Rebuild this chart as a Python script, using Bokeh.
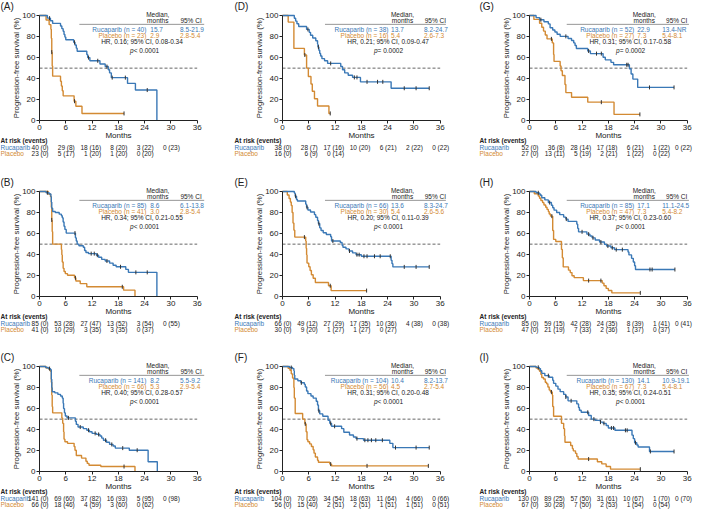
import numpy as np
from bokeh.plotting import figure
from bokeh.layouts import column, row
from bokeh.models import Range1d
from bokeh.core.properties import value
from bokeh.embed import file_html
from bokeh.resources import INLINE

# ---------------- data ----------------
MONTH_TICKS = [0, 6, 12, 18, 24, 30, 36]
SURV_TICKS = [0, 20, 40, 60, 80, 100]
RISK_TIMES = [0, 6, 12, 18, 24, 30, 36]
ARMS = ["Rucaparib", "Placebo"]

# Panel A
A_RUC_T = [1.8, 2.5, 3.0, 4.8, 5.1, 5.4, 5.6, 5.8, 6.0, 7.8, 8.1, 8.4, 8.6, 10.8, 11.0, 11.5, 13.8, 15.0, 15.7, 16.0, 16.4, 20.1, 21.9, 26.8]
A_RUC_S = [97.5, 95, 92.5, 90, 87.5, 85, 82, 79.5, 77, 74.5, 72, 69, 66, 63, 60, 57, 54, 51.5, 48.5, 45.5, 41, 35.5, 29.2, 0]
A_RUC_C = [2.3, 8.0, 11.2, 13.3, 15.4, 16.6, 19.6, 24.6]
A_PLC_T = [1.5, 2.2, 2.6, 2.7, 2.8, 2.9, 3.0, 4.8, 5.0, 5.2, 5.4, 7.9, 8.3, 9.7]
A_PLC_S = [95.7, 91.3, 87, 78.3, 65.2, 52, 42.4, 37.5, 33, 28.5, 23.7, 18.6, 13.8, 7.0]
A_PLC_C = [2.8, 8.0, 19.3]
A_N = [40, 23]
A_MEDIAN = ["15.7", "2.9"]
A_CI = ["8.5-21.9", "2.8-5.4"]
A_HR = ["0.16", "0.08-0.34"]
A_P = "< 0.0001"
A_RUC_RISK = [40, 29, 18, 8, 3, 0]
A_RUC_EV = [0, 8, 16, 20, 22, 23]
A_PLC_RISK = [23, 5, 1, 1, 0]
A_PLC_EV = [0, 17, 20, 20, 20]

# Panel B
B_RUC_T = [1.5, 2.2, 2.6, 2.7, 2.8, 3.0, 3.6, 4.5, 5.0, 5.2, 5.4, 5.6, 5.8, 6.1, 8.2, 8.4, 8.6, 9.0, 10.0, 10.3, 10.6, 11.2, 13.0, 13.5, 14.2, 15.0, 16.0, 16.8, 17.5, 19.7, 20.3, 26.8]
B_RUC_S = [98.8, 97.6, 95, 90, 84, 81, 80, 78.5, 77, 75, 71, 67, 64, 60.5, 56, 53, 50, 48.5, 47, 44, 42, 41, 39.5, 37.5, 35.5, 34, 32, 30, 28.5, 26, 23.2, 0]
B_RUC_C = [1.8, 8.1, 11.8, 12.5, 13.2, 15.4, 18.5, 22.0, 24.6]
B_PLC_T = [2.0, 2.5, 2.7, 2.8, 2.9, 3.0, 5.0, 5.1, 5.2, 5.4, 5.6, 5.9, 6.4, 8.0, 8.3, 9.3, 10.8, 19.2, 21.8]
B_PLC_S = [97.6, 95.1, 85, 73, 62, 50, 45, 40, 33, 27, 24, 22, 20.5, 18, 15, 12.5, 9.5, 6.3, 0]
B_PLC_C = [2.8, 8.2, 18.9]
B_N = [85, 41]
B_MEDIAN = ["8.6", "3.0"]
B_CI = ["6.1-13.8", "2.8-5.4"]
B_HR = ["0.34", "0.21-0.55"]
B_P = "< 0.0001"
B_RUC_RISK = [85, 53, 27, 13, 3, 0]
B_RUC_EV = [0, 28, 47, 52, 54, 55]
B_PLC_RISK = [41, 10, 3, 3, 0]
B_PLC_EV = [0, 29, 35, 35, 37]

# Panel C
C_RUC_T = [1.4, 2.0, 2.5, 2.7, 2.8, 2.9, 3.5, 4.2, 4.8, 5.2, 5.4, 5.5, 5.7, 5.9, 6.3, 8.2, 8.4, 8.8, 10.0, 10.8, 11.4, 12.0, 13.0, 13.8, 14.2, 14.6, 15.3, 16.0, 16.8, 17.3, 20.5, 24.8, 26.9]
C_RUC_S = [99, 98, 97, 88, 80, 76, 75, 73.5, 72, 70, 65, 60, 56, 53, 51.2, 48, 45, 42.5, 41, 39.5, 38, 36.5, 35.5, 34, 32, 30, 28, 26, 24.5, 22.5, 20.5, 9.5, 0]
C_RUC_C = [2.3, 6.6, 9.3, 11.2, 12.7, 13.5, 15.1, 16.5, 19.0, 22.3]
C_PLC_T = [1.5, 2.2, 2.5, 2.7, 2.8, 2.9, 3.0, 5.1, 5.3, 5.5, 5.6, 5.8, 6.4, 7.9, 8.1, 8.4, 9.6, 10.6, 10.9, 11.3, 14.0, 21.8]
C_PLC_S = [98.5, 97, 95.5, 85, 73, 62, 56, 51, 46, 38, 31, 28.5, 27, 24, 20.5, 15.5, 13, 10, 8, 6.2, 5, 0]
C_PLC_C = [19.3]
C_N = [141, 66]
C_MEDIAN = ["8.2", "5.3"]
C_CI = ["5.5-9.2", "2.9-5.4"]
C_HR = ["0.40", "0.28-0.57"]
C_P = "< 0.0001"
C_RUC_RISK = [141, 69, 37, 16, 5, 0]
C_RUC_EV = [0, 60, 82, 93, 95, 98]
C_PLC_RISK = [66, 18, 4, 3, 0]
C_PLC_EV = [0, 46, 59, 60, 62]

# Panel D
D_RUC_T = [2.7, 3.0, 3.3, 3.7, 5.5, 6.1, 6.4, 6.9, 7.6, 8.0, 8.1, 8.3, 8.5, 8.7, 9.0, 9.6, 10.3, 13.3, 13.7, 14.2, 15.0, 16.0, 17.8, 24.8]
D_RUC_S = [97.4, 94.7, 92.1, 89.5, 86.8, 84, 81.3, 78.6, 76, 73, 70, 67, 64, 61.5, 59, 57, 54.5, 51.5, 48.5, 45.5, 43.3, 41.2, 37, 30.9]
D_RUC_C = [5.8, 8.2, 11.0, 16.4, 17.0, 19.3, 21.7, 22.9, 27.8, 30.5, 33.5]
D_PLC_T = [1.3, 2.6, 5.0, 5.5, 5.9, 6.5, 6.8, 7.3, 8.0, 10.6]
D_PLC_S = [93.75, 68.75, 62.5, 50, 42, 35, 28, 21, 14, 7]
D_PLC_C = [5.1, 10.9]
D_N = [38, 16]
D_MEDIAN = ["13.7", "5.4"]
D_CI = ["8.2-24.7", "2.6-7.3"]
D_HR = ["0.21", "0.09-0.47"]
D_P = "= 0.0002"
D_RUC_RISK = [38, 28, 17, 10, 6, 2, 0]
D_RUC_EV = [0, 7, 16, 20, 21, 22, 22]
D_PLC_RISK = [16, 6, 0]
D_PLC_EV = [0, 9, 14]

# Panel E
E_RUC_T = [2.7, 2.9, 3.2, 3.4, 5.3, 5.5, 5.8, 6.4, 7.3, 7.6, 8.0, 8.2, 8.5, 8.8, 9.3, 10.0, 11.0, 11.2, 13.2, 13.6, 13.8, 14.5, 15.2, 16.0, 16.8, 18.0, 24.8, 25.0, 25.2]
E_RUC_S = [98.5, 95.5, 92.4, 91, 88, 85, 82.4, 80.5, 78, 75.5, 72.5, 69.5, 65.5, 63, 60.8, 59.2, 57, 53, 51.5, 49, 47, 45.5, 43.5, 41.7, 40, 38.5, 34.6, 31.5, 28.4]
E_RUC_C = [3.0, 5.6, 8.3, 11.5, 15.3, 17.0, 17.5, 18.6, 19.3, 21.0, 22.3, 24.6, 27.8, 30.5, 33.5]
E_PLC_T = [1.1, 1.5, 1.8, 2.0, 2.2, 2.4, 2.6, 2.8, 5.3, 5.4, 5.5, 5.6, 6.0, 6.3, 6.6, 7.0, 7.5, 10.5, 11.1]
E_PLC_S = [96.7, 93.3, 90, 86.7, 80, 70, 63.3, 56.7, 53, 46, 40, 32, 28.5, 25, 21, 17.6, 13.6, 10.5, 5.9]
E_PLC_C = [5.0, 10.9, 19.2]
E_N = [66, 30]
E_MEDIAN = ["13.6", "5.4"]
E_CI = ["8.3-24.7", "2.6-5.6"]
E_HR = ["0.20", "0.11-0.39"]
E_P = "< 0.0001"
E_RUC_RISK = [66, 49, 27, 17, 10, 4, 0]
E_RUC_EV = [0, 12, 29, 35, 36, 38, 38]
E_PLC_RISK = [30, 9, 1, 1, 0]
E_PLC_EV = [0, 20, 27, 27, 27]

# Panel F
F_RUC_T = [1.6, 2.3, 2.6, 2.7, 2.8, 3.5, 4.2, 5.0, 5.2, 5.5, 5.8, 6.5, 7.0, 7.7, 8.0, 8.2, 8.5, 9.2, 10.4, 10.8, 11.2, 13.5, 14.0, 15.3, 16.2, 16.8, 18.5, 24.5, 25.2]
F_RUC_S = [99, 98, 96, 92, 88.2, 86.5, 84.5, 83, 80.5, 76.7, 74.2, 72, 70, 67, 63.4, 58, 55, 52.8, 49, 46, 43.2, 41, 37.5, 35, 33, 31.5, 30, 27, 23]
F_RUC_C = [2.0, 4.3, 8.3, 11.0, 11.9, 17.0, 18.8, 19.5, 20.3, 21.3, 22.8, 25.8, 30.5, 33.5]
F_PLC_T = [1.3, 1.7, 2.0, 2.3, 2.6, 2.7, 2.9, 4.6, 5.1, 5.4, 5.6, 5.8, 6.2, 6.6, 7.0, 7.2, 7.5, 8.0, 8.2, 10.8, 11.2]
F_PLC_S = [98.2, 96.4, 93, 89, 80, 70, 55.4, 50, 45.5, 38, 30.5, 28.6, 26.5, 24, 21, 17.7, 14, 10.9, 9, 7.3, 5.6]
F_PLC_C = [5.2, 11.0, 19.3, 33.3]
F_N = [104, 56]
F_MEDIAN = ["10.4", "4.5"]
F_CI = ["8.2-13.7", "2.7-5.4"]
F_HR = ["0.31", "0.20-0.48"]
F_P = "< 0.0001"
F_RUC_RISK = [104, 70, 34, 18, 11, 4, 0]
F_RUC_EV = [0, 26, 54, 63, 64, 66, 66]
F_PLC_RISK = [56, 15, 2, 2, 1, 1, 0]
F_PLC_EV = [0, 40, 51, 51, 51, 51, 51]

# Panel G
G_RUC_T = [1.5, 2.3, 3.3, 4.3, 4.7, 5.3, 5.8, 6.3, 7.0, 8.8, 9.6, 10.1, 10.4, 10.7, 13.3, 13.9, 16.8, 17.3, 18.6, 19.2, 22.8, 23.2, 23.6, 24.7]
G_RUC_S = [98, 96, 94, 92, 88.3, 86.3, 84.3, 82.2, 80.2, 78.2, 76.2, 74, 71.5, 68.6, 66.3, 63.8, 60.3, 57.9, 55.5, 53.2, 49.5, 44.5, 39.6, 31.7]
G_RUC_C = [2.6, 8.3, 13.5, 15.3, 16.4, 22.2, 22.5, 27.4, 33.0]
G_PLC_T = [1.0, 2.3, 2.8, 3.2, 3.6, 4.0, 5.2, 5.5, 5.6, 7.0, 7.2, 7.5, 8.1, 8.3, 9.6, 13.3, 19.3]
G_PLC_S = [96.3, 92.6, 88.9, 85.2, 81.5, 77.8, 74, 63, 56.4, 52, 47.5, 43, 34.5, 26.8, 22.3, 17.7, 6.1]
G_PLC_C = [5.0, 16.4, 25.2]
G_N = [52, 27]
G_MEDIAN = ["22.9", "7.3"]
G_CI = ["13.4-NR", "5.4-8.1"]
G_HR = ["0.31", "0.17-0.58"]
G_P = "= 0.0002"
G_RUC_RISK = [52, 36, 28, 17, 6, 1, 0]
G_RUC_EV = [0, 8, 14, 18, 21, 22, 22]
G_PLC_RISK = [27, 13, 5, 2, 1, 0]
G_PLC_EV = [0, 11, 19, 21, 22, 22]

# Panel H
H_RUC_T = [1.5, 2.2, 2.5, 2.8, 3.5, 4.3, 5.0, 5.3, 5.6, 6.2, 6.9, 7.8, 8.3, 8.8, 10.8, 11.0, 11.2, 13.1, 13.8, 14.3, 15.0, 16.0, 17.1, 17.6, 18.6, 19.4, 22.5, 22.7, 23.3, 23.7, 24.0, 24.2]
H_RUC_S = [98.8, 97.6, 96.4, 94, 92, 89.5, 87, 84.5, 82.3, 80, 78, 75.7, 73.8, 71.6, 69, 65, 61.7, 59.5, 57.8, 56, 54, 52, 49.8, 48.2, 46.6, 44.8, 42.5, 39.8, 36.5, 33, 29.5, 25.9]
H_RUC_C = [2.0, 4.6, 8.4, 12.0, 13.5, 14.5, 16.3, 17.9, 18.9, 19.8, 21.2, 27.5, 28.0, 33.2]
H_PLC_T = [1.1, 2.0, 2.3, 2.6, 3.0, 3.3, 3.7, 4.0, 4.3, 4.5, 4.8, 5.3, 5.5, 6.0, 7.3, 7.5, 7.7, 8.9, 9.3, 9.7, 10.2, 12.3, 16.6, 17.0, 17.5, 18.0, 18.8]
H_PLC_S = [97.9, 95.7, 93.6, 91.5, 89.4, 87.2, 85, 83, 80.9, 78.7, 76.6, 63, 54.5, 52.5, 45, 37, 28.4, 25.3, 23, 20, 18.2, 15.4, 13, 10.5, 8, 6, 3.7]
H_PLC_C = [5.1, 13.5, 16.3, 25.3]
H_N = [85, 47]
H_MEDIAN = ["17.1", "7.3"]
H_CI = ["11.1-24.5", "5.4-8.2"]
H_HR = ["0.37", "0.23-0.60"]
H_P = "< 0.0001"
H_RUC_RISK = [85, 59, 42, 24, 8, 1, 0]
H_RUC_EV = [0, 15, 28, 35, 39, 41, 41]
H_PLC_RISK = [47, 21, 7, 2, 1, 0]
H_PLC_EV = [0, 19, 33, 36, 37, 37]

# Panel I
I_RUC_T = [1.5, 2.2, 2.5, 2.8, 3.5, 4.5, 5.3, 5.5, 6.0, 6.5, 7.0, 7.8, 8.3, 8.8, 10.8, 11.2, 11.4, 11.8, 13.5, 14.1, 15.0, 16.2, 16.8, 17.5, 18.0, 19.5, 23.4, 23.7, 24.0, 24.5, 24.8, 27.4]
I_RUC_S = [99.2, 98, 96, 93.5, 91.3, 89.8, 87, 84, 81.4, 78.5, 76.1, 73.5, 71, 67.4, 64.5, 61, 58.5, 56.5, 53.5, 50, 48.8, 47.2, 46, 44, 41.6, 39.4, 34.8, 31.5, 27.6, 25.5, 23.6, 19.3]
I_RUC_C = [2.0, 4.3, 8.3, 9.5, 13.3, 14.7, 16.2, 17.0, 18.7, 19.2, 21.9, 22.3, 24.2, 27.6, 33.0]
I_PLC_T = [1.5, 2.0, 2.3, 2.6, 2.8, 3.2, 3.6, 3.9, 4.2, 4.5, 4.8, 5.2, 5.3, 5.5, 7.3, 7.8, 8.0, 8.1, 9.4, 9.8, 10.0, 10.5, 10.8, 11.1, 15.5, 16.5, 17.5, 18.5]
I_PLC_S = [98.5, 97, 95.5, 92.5, 89.6, 88.1, 85, 83.5, 80.5, 77.6, 75.8, 73, 62, 52.8, 46, 41, 34.2, 28, 25, 22, 19.9, 17.5, 14.5, 12.1, 9.5, 7.5, 5.0, 2.5]
I_PLC_C = [5.0, 13.5, 25.3]
I_N = [130, 67]
I_MEDIAN = ["14.1", "7.3"]
I_CI = ["10.9-19.1", "5.4-8.1"]
I_HR = ["0.35", "0.24-0.51"]
I_P = "< 0.0001"
I_RUC_RISK = [130, 89, 57, 31, 10, 1, 0]
I_RUC_EV = [0, 25, 50, 61, 67, 70, 70]
I_PLC_RISK = [67, 30, 7, 2, 1, 0]
I_PLC_EV = [0, 28, 50, 53, 54, 54]

MEDIAN_LEVEL = 50

# ---------------- styles / layout ----------------
FONT = "Liberation Sans"
BLUE = "#3a78b6"
ORANGE = "#d38a33"
DARK = "#222222"
CENSOR = "#333333"

COL_W = [230, 232, 231]
COL_FRAME_LEFT = [39, 52, 67]     # px of month 0 inside each panel
COL_LABEL_LEFT = [0, 4, 17]       # px of the left labels inside each panel
ROW_H = [176, 175, 161]
FB = 120.3                        # px of 0 % from panel top
P100 = 15.0                       # px of 100 % from panel top
PXM = 4.38                        # px per month
PPP = (FB - P100) / 100.0         # px per percent

# median box layout per column (months / percent)
BOX = [
    dict(lbl=24.4, med=25.3, ci=32.1, hmed=27.0, hci=34.6, hr=23.4, pv=24.2, r0=9.1, r1=37.6),
    dict(lbl=24.2, med=24.8, ci=32.3, hmed=27.4, hci=34.9, hr=24.1, pv=24.4, r0=9.7, r1=37.3),
    dict(lbl=23.9, med=24.6, ci=30.3, hmed=26.2, hci=33.6, hr=23.0, pv=23.3, r0=8.5, r1=36.4),
]
HDR_Y1, HDR_Y2 = 100.6, 95.6
RULE_Y = 91.6
ROW_Y = [86.4, 81.4]
HR_Y, P_Y = 75.0, 67.0
FS_BOX = "6.5px"
FS_TBL = "6.5px"

TITLE_PX = 5.5
TBL_PX = [139.7, 146.6, 152.9]
NUM_SHIFT_PX = 9.0                # at-risk numbers end this far right of their tick


def G(name):
    return globals()[name]


def surv_at(t, s, c):
    v = 100.0
    for ti, si in zip(t, s):
        if ti <= c:
            v = si
    return v


def px_to_y(px):
    return (FB - px) / PPP


def make_panel(letter, r, c):
    cw = COL_W[c]
    fl = COL_FRAME_LEFT[c]
    h = ROW_H[r]
    tf = value(FONT)
    p = figure(width=cw, height=h,
               x_range=Range1d(-fl / PXM, (cw - fl) / PXM),
               y_range=Range1d(px_to_y(h), px_to_y(0)),
               output_backend="svg", toolbar_location=None, min_border=0)
    p.outline_line_color = None
    p.grid.grid_line_color = None
    p.background_fill_color = "white"

    for ax in (p.xaxis[0], p.yaxis[0]):
        ax.fixed_location = 0
        ax.axis_line_color = DARK
        ax.major_tick_line_color = DARK
        ax.minor_tick_line_color = None
        ax.major_tick_in = 0
        ax.major_tick_out = 3
        ax.major_label_text_font = FONT
        ax.major_label_text_font_size = "8px"
        ax.major_label_text_color = DARK
        ax.major_label_standoff = 1
        ax.axis_label_text_font = FONT
        ax.axis_label_text_font_style = "normal"
        ax.axis_label_text_color = DARK
    p.xaxis.ticker = MONTH_TICKS
    p.xaxis.bounds = (MONTH_TICKS[0], MONTH_TICKS[-1])
    p.xaxis.axis_label = "Months"
    p.xaxis.axis_label_text_font_size = "8px"
    p.xaxis.axis_label_standoff = -2
    p.yaxis.ticker = SURV_TICKS
    p.yaxis.bounds = (SURV_TICKS[0], SURV_TICKS[-1])
    p.yaxis.axis_label = "Progression-free survival (%)"
    p.yaxis.axis_label_text_font_size = "7.8px"
    p.yaxis.axis_label_standoff = -2

    # panel letter
    lx = (COL_LABEL_LEFT[c] - fl) / PXM
    p.text([lx], [px_to_y(TITLE_PX)], text=["(" + letter + ")"], text_font=tf,
           text_font_size="10px", text_color=DARK, text_align="left", text_baseline="middle")

    # median reference line
    p.line([MONTH_TICKS[0], MONTH_TICKS[-1]], [MEDIAN_LEVEL, MEDIAN_LEVEL],
           line_color="#555555", line_width=0.9, line_dash="3 2")

    for arm, color in (("PLC", ORANGE), ("RUC", BLUE)):
        t = G(f"{letter}_{arm}_T")
        s = G(f"{letter}_{arm}_S")
        cens = G(f"{letter}_{arm}_C")
        xs = [0.0] + list(t)
        ys = [100.0] + list(s)
        end = max(cens + [t[-1]])
        if ys[-1] > 0 and end > xs[-1]:
            xs.append(end)
            ys.append(ys[-1])
        p.step(xs, ys, mode="after", line_color=color, line_width=1.4)
        cy = [surv_at(t, s, cc) for cc in cens]
        p.scatter(cens, cy, marker="dash", angle=np.pi / 2, size=4,
                  line_color=CENSOR, line_width=1)

    # median box
    b = BOX[c]
    n = G(f"{letter}_N")
    med = G(f"{letter}_MEDIAN")
    ci = G(f"{letter}_CI")
    hr = G(f"{letter}_HR")
    pv = G(f"{letter}_P")
    p.text([b["hmed"], b["hmed"]], [HDR_Y1, HDR_Y2], text=["Median,", "months"],
           text_font=tf, text_font_size=FS_BOX, text_color=DARK,
           text_align="center", text_baseline="middle")
    p.text([b["hci"]], [HDR_Y2], text=["95% CI"], text_font=tf, text_font_size=FS_BOX,
           text_color=DARK, text_align="center", text_baseline="middle")
    p.line([b["r0"], b["r1"]], [RULE_Y, RULE_Y], line_color="#8a8a8a", line_width=0.9)
    for i, color in enumerate((BLUE, ORANGE)):
        p.text([b["lbl"]], [ROW_Y[i]], text=[f"{ARMS[i]} (n = {n[i]})"], text_font=tf,
               text_font_size=FS_BOX, text_color=color, text_align="right",
               text_baseline="middle")
        p.text([b["med"], b["ci"]], [ROW_Y[i], ROW_Y[i]], text=[med[i], ci[i]],
               text_font=tf, text_font_size=FS_BOX, text_color=color,
               text_align="left", text_baseline="middle")
    p.text([b["hr"]], [HR_Y], text=[f"HR, {hr[0]}; 95% CI, {hr[1]}"], text_font=tf,
           text_font_size=FS_BOX, text_color=DARK, text_align="center", text_baseline="middle")
    rest = " " + pv
    w_p = 0.556 * 6.5 / PXM
    w_rest = (0.278 + 0.584 + 0.278 + 0.556 * 5 + 0.278) * 6.5 / PXM
    x0 = b["pv"] - (w_p + w_rest) / 2
    p.text([x0], [P_Y], text=["p"], text_font=tf, text_font_size=FS_BOX,
           text_font_style="italic", text_color=DARK, text_align="left", text_baseline="middle")
    p.text([x0 + w_p], [P_Y], text=[rest], text_font=tf, text_font_size=FS_BOX,
           text_color=DARK, text_align="left", text_baseline="middle")

    # at-risk table
    p.text([lx], [px_to_y(TBL_PX[0])], text=["At risk (events)"], text_font=tf,
           text_font_size=FS_TBL, text_font_style="bold", text_color=DARK,
           text_align="left", text_baseline="middle")
    for i, (arm, color) in enumerate((("RUC", BLUE), ("PLC", ORANGE))):
        yv = px_to_y(TBL_PX[i + 1])
        p.text([lx], [yv], text=[ARMS[i]], text_font=tf, text_font_size=FS_TBL,
               text_color=color, text_align="left", text_baseline="middle")
        risk = G(f"{letter}_{arm}_RISK")
        ev = G(f"{letter}_{arm}_EV")
        labels = [f"{a} ({e})" for a, e in zip(risk, ev)]
        xs = RISK_TIMES[:len(labels)]
        offs = [min(NUM_SHIFT_PX, cw - 1.5 - (fl + tm * PXM)) for tm in xs]
        p.text(xs, [yv] * len(labels), text=labels, x_offset=offs, text_font=tf,
               text_font_size=FS_TBL, text_color=DARK, text_align="right",
               text_baseline="middle")
    return p


GRID = [["A", "D", "G"], ["B", "E", "H"], ["C", "F", "I"]]
rows = []
for r, letters in enumerate(GRID):
    rows.append(row(*[make_panel(L, r, c) for c, L in enumerate(letters)], spacing=0))
layout = column(*rows, spacing=0)

open("out.html", "w").write(file_html(layout, INLINE))
